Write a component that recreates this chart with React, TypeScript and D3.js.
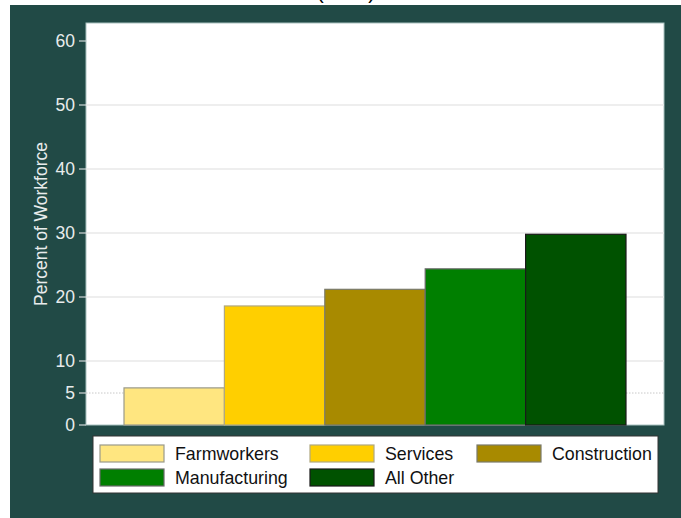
import React from "react";
import * as d3 from "d3";

const categories = ["Farmworkers", "Services", "Construction", "Manufacturing", "All Other"];
const values = [5.8, 18.6, 21.2, 24.4, 29.8];
const fills = ["#ffe680", "#ffcf00", "#a88a00", "#007f00", "#005200"];
const strokes = ["#9a9a8a", "#b0a880", "#7a7a6a", "#6a6a6a", "#1a1a1a"];
const yTicks = [0, 5, 10, 20, 30, 40, 50, 60];
const gridTicks = [10, 20, 30, 40, 50];
const refLine = 5;
const yTitle = "Percent of Workforce";
const titleText = "(2016)";

const W = 681;
const H = 518;
const plot = { left: 86, right: 664, top: 23, bottom: 425 };

export default function App() {
  const y = d3.scaleLinear().domain([0, 60]).range([425, 41]);
  const x = d3
    .scaleBand<string>()
    .domain(categories)
    .range([124, 626])
    .paddingInner(0)
    .paddingOuter(0);
  const font = "'Liberation Sans', Arial, sans-serif";
  const legendCols = [100, 310, 477];
  const legendRows = [445, 469];
  return (
    <div style={{ position: "absolute", left: 0, top: 0 }}>
      <svg width={W} height={H} style={{ display: "block" }} fontFamily={font}>
        <rect x={0} y={0} width={W} height={H} fill="#ffffff" />
        <text x={346} y={-1} textAnchor="middle" fontSize={20} fill="#000">
          {titleText}
        </text>
        <rect x={10} y={5} width={W - 10} height={H - 5} fill="#214a46" />
        <rect
          x={plot.left}
          y={plot.top}
          width={plot.right - plot.left}
          height={plot.bottom - plot.top}
          fill="#ffffff"
          stroke="#a9c2c0"
          strokeWidth={1}
        />
        {gridTicks.map((t) => (
          <line
            key={"g" + t}
            x1={plot.left}
            x2={plot.right}
            y1={y(t)}
            y2={y(t)}
            stroke="#e8e8e8"
            strokeWidth={1.5}
          />
        ))}
        <line
          x1={plot.left}
          x2={plot.right}
          y1={y(refLine)}
          y2={y(refLine)}
          stroke="#c8c8c8"
          strokeWidth={1}
          strokeDasharray="1.5,1.5"
        />
        {categories.map((c, i) => (
          <rect
            key={c}
            x={x(c)}
            y={y(values[i])}
            width={x.bandwidth()}
            height={y(0) - y(values[i])}
            fill={fills[i]}
            stroke={strokes[i]}
            strokeWidth={1.2}
          />
        ))}
        {yTicks.map((t) => (
          <g key={"t" + t}>
            <line x1={79} x2={plot.left} y1={y(t)} y2={y(t)} stroke="#d0d8d8" strokeWidth={1.2} />
            <text
              x={75}
              y={y(t)}
              dy="0.36em"
              textAnchor="end"
              fontSize={17.5}
              fill="#e8ecec"
            >
              {t}
            </text>
          </g>
        ))}
        <text
          transform={`translate(47,224) rotate(-90)`}
          textAnchor="middle"
          fontSize={17.5}
          fill="#e8ecec"
        >
          {yTitle}
        </text>
        <rect x={93} y={436} width={565} height={57} fill="#ffffff" stroke="#333" strokeWidth={1} />
        {categories.map((c, i) => {
          const col = legendCols[i % 3];
          const row = legendRows[Math.floor(i / 3)];
          return (
            <g key={"l" + c}>
              <rect x={col} y={row} width={64} height={17} fill={fills[i]} stroke={strokes[i]} strokeWidth={1.2} />
              <text x={col + 75} y={row + 8.5} dy="0.36em" fontSize={17.8} fill="#111">
                {c}
              </text>
            </g>
          );
        })}
      </svg>
    </div>
  );
}
